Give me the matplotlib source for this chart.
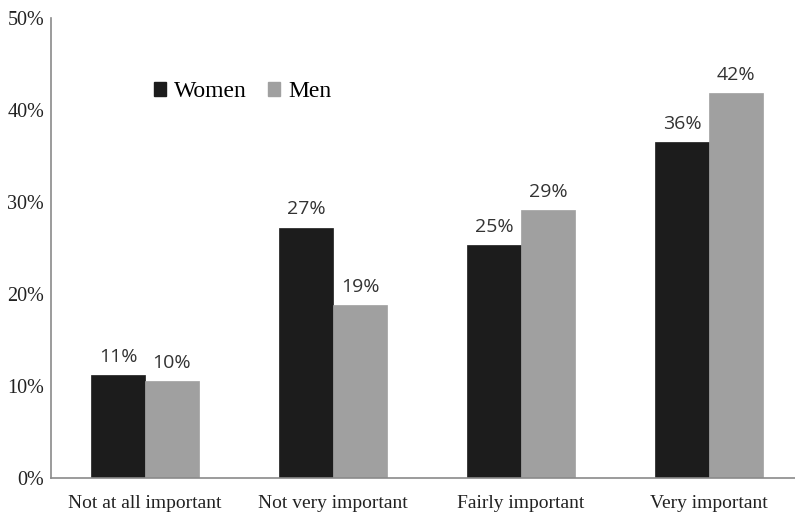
import matplotlib

matplotlib.use("Agg")

import matplotlib.pyplot as plt  # noqa: E402
import matplotlib.patches as mpatches  # noqa: E402
import numpy as np  # noqa: E402

categories = ["Not at all important", "Not very important", "Fairly important", "Very important"]
women = [11.2, 27.2, 25.3, 36.5]
men = [10.5, 18.8, 29.1, 41.8]
women_labels = ["11%", "27%", "25%", "36%"]
men_labels = ["10%", "19%", "29%", "42%"]
y_ticks = [0, 10, 20, 30, 40, 50]

WOMEN_COLOR = "#1c1c1c"
MEN_COLOR = "#a0a0a0"
AXIS_COLOR = "#8a8a8a"
BAR_W = 0.287
SERIF = "Liberation Serif"
SANS = "Open Sans"

fig = plt.figure(figsize=(7.95, 5.13), dpi=100)
ax = fig.add_axes([0.0642, 0.0682, 0.9358, 0.897])

x = np.arange(len(categories))
ax.bar(x - BAR_W / 2, women, BAR_W, color=WOMEN_COLOR, edgecolor=WOMEN_COLOR, linewidth=0.5)
ax.bar(x + BAR_W / 2, men, BAR_W, color=MEN_COLOR, edgecolor=MEN_COLOR, linewidth=0.5)

for xi, v, lab in zip(x - BAR_W / 2, women, women_labels):
    ax.text(xi, v + 1.0, lab, ha="center", va="bottom", fontsize=14,
            family=SANS, color="#333333")
for xi, v, lab in zip(x + BAR_W / 2, men, men_labels):
    ax.text(xi, v + 1.0, lab, ha="center", va="bottom", fontsize=14,
            family=SANS, color="#333333")

ax.set_xlim(-0.5, 3.458)
ax.set_ylim(0, 50)
ax.set_yticks(y_ticks)
ax.set_yticklabels([f"{t}%" for t in y_ticks], family=SERIF, fontsize=14.5)
ax.set_xticks(x)
ax.set_xticklabels(categories, family=SERIF, fontsize=14)
ax.tick_params(length=0, colors="#222222")
ax.tick_params(axis="x", pad=12)
ax.tick_params(axis="y", pad=5)

for side in ("top", "right"):
    ax.spines[side].set_visible(False)
for side in ("left", "bottom"):
    ax.spines[side].set_color(AXIS_COLOR)
    ax.spines[side].set_linewidth(1.2)

handles = [
    mpatches.Patch(color=WOMEN_COLOR, label="Women"),
    mpatches.Patch(color=MEN_COLOR, label="Men"),
]
ax.legend(handles=handles, loc="upper left", bbox_to_anchor=(0.11, 0.908),
          ncol=2, frameon=False, handlelength=0.5, handleheight=0.5,
          handletextpad=0.35, columnspacing=0.9,
          prop={"family": SERIF, "size": 17})

fig.savefig("out.png", dpi=100)
plt.close(fig)
